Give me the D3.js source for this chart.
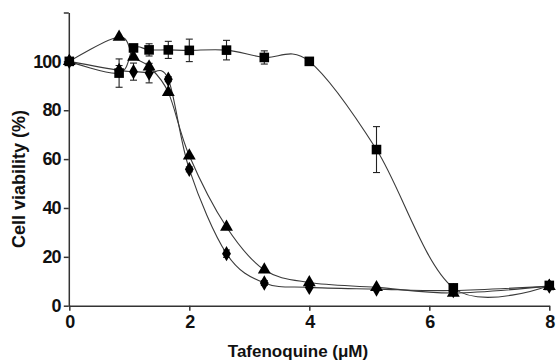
<!DOCTYPE html>
<html><head><meta charset="utf-8">
<script src="https://cdn.jsdelivr.net/npm/d3@7"></script>
<style>
html,body{margin:0;padding:0;background:#fff;}
text{font-family:"Liberation Sans",Arial,sans-serif;}
</style></head>
<body><svg id="c" width="557" height="362"></svg>
<script>
const concentrations = [0, 0.83, 1.07, 1.33, 1.65, 2.0, 2.62, 3.25, 4.0, 5.12, 6.4, 8.0];
const squareValues   = [100, 95.2, 105.5, 104.7, 104.7, 104.5, 104.6, 101.6, 100, 63.9, 7.3, 8.3];
const squareErrors   = [1, 5.8, 1, 2.5, 3.5, 4.6, 4, 2.7, 1.5, 9.4, 1, 1];
const triangleValues = [100, 110, 101.8, 97.8, 87.3, 61.4, 32.2, 14.7, 9.5, 7.5, 5.2, 8];
const triangleErrors = [0, 0, 0, 0, 0, 0, 0, 0, 0, 0, 0, 0];
const diamondValues  = [100, 96.3, 95.8, 95.2, 92.7, 55.8, 21.3, 9.3, 7.5, 6.8, 6.2, 8];
const diamondErrors  = [0, 2, 3.5, 4, 1, 1, 1.5, 1, 0, 0, 0, 0];
const xTicks = [0, 2, 4, 6, 8];
const yTicks = [0, 20, 40, 60, 80, 100, 120];
const yLabels = ["0", "20", "40", "60", "80", "100", ""];

const svg = d3.select("#c");
const x = d3.scaleLinear().domain([0, 8]).range([69.3, 549.3]);
const y = d3.scaleLinear().domain([0, 120]).range([305.7, 12.5]);

// axes
const xAxis = d3.axisBottom(x).tickValues(xTicks).tickSize(5).tickSizeOuter(0).tickPadding(5).tickFormat(d3.format("d"));
const yAxis = d3.axisLeft(y).tickValues(yTicks).tickSize(5).tickSizeOuter(0).tickPadding(3)
  .tickFormat((d, i) => yLabels[i]);

const gx = svg.append("g").attr("transform", `translate(0,${y(0)})`).call(xAxis);
const gy = svg.append("g").attr("transform", `translate(${x(0) - 0.5},0)`).call(yAxis);
[gx, gy].forEach(g => {
  g.selectAll("path,line").attr("stroke", "#333").attr("stroke-width", 1.5);
  g.selectAll("text").attr("font-size", 18).attr("font-weight", "bold").attr("fill", "#111")
    .attr("font-family", "'Liberation Sans',Arial,sans-serif").attr("letter-spacing", -0.8);
});

// titles
svg.append("text").attr("x", 298).attr("y", 357).attr("text-anchor", "middle")
  .attr("font-size", 17).attr("font-weight", "bold").attr("fill", "#111")
  .text("Tafenoquine (\u03BCM)");
svg.append("text").attr("transform", "translate(25,179) rotate(-90)").attr("text-anchor", "middle")
  .attr("font-size", 18).attr("font-weight", "bold").attr("fill", "#111")
  .text("Cell viability (%)");

const series = [
  {vals: diamondValues, errs: diamondErrors, sym: "diamond"},
  {vals: triangleValues, errs: triangleErrors, sym: "triangle"},
  {vals: squareValues, errs: squareErrors, sym: "square"}
];

const line = d3.line().x((d, i) => x(concentrations[i])).y(d => y(d)).curve(d3.curveCardinal.tension(0));

series.forEach(s => {
  svg.append("path").datum(s.vals).attr("d", line).attr("fill", "none")
    .attr("stroke", "#3a3a3a").attr("stroke-width", 1.1);
});

// error bars
series.forEach(s => {
  const g = svg.append("g").attr("stroke", "#222").attr("stroke-width", 1.1);
  s.vals.forEach((v, i) => {
    const e = s.errs[i];
    if (!e) return;
    const cx = x(concentrations[i]);
    g.append("line").attr("x1", cx).attr("x2", cx).attr("y1", y(v + e)).attr("y2", y(v - e));
    g.append("line").attr("x1", cx - 3.5).attr("x2", cx + 3.5).attr("y1", y(v + e)).attr("y2", y(v + e));
    g.append("line").attr("x1", cx - 3.5).attr("x2", cx + 3.5).attr("y1", y(v - e)).attr("y2", y(v - e));
  });
});

// markers
const sym = {
  square: d3.symbol().type(d3.symbolSquare).size(92),
  triangle: d3.symbol().type(d3.symbolTriangle).size(72),
  diamond: d3.symbol().type(d3.symbolDiamond).size(68)
};
series.forEach(s => {
  svg.append("g").selectAll("path").data(s.vals).join("path")
    .attr("d", sym[s.sym]())
    .attr("transform", (d, i) => `translate(${x(concentrations[i])},${y(d)})`)
    .attr("fill", "#000");
});
</script></body></html>
